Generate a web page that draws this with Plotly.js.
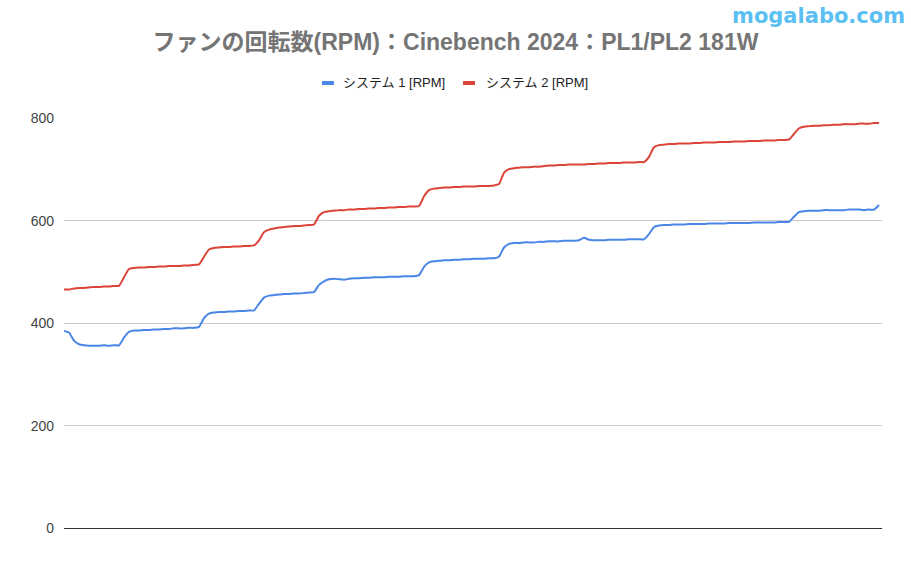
<!DOCTYPE html>
<html>
<head>
<meta charset="utf-8">
<script src="https://cdn.plot.ly/plotly-3.0.1.min.js"></script>
<style>
  html, body { margin: 0; padding: 0; background: #fff; }
  #chart { width: 911px; height: 566px; }
</style>
</head>
<body>
<div id="chart"></div>
<script>
// series labels
var seriesNames = ['システム 1 [RPM]', 'システム 2 [RPM]'];
var seriesColors = ['#4a86e8', '#db4437'];
var yTicks = [0, 200, 400, 600, 800];

// fan speed, one sample per step of the run
var sys1 = [
  385, 382, 366, 359, 357, 356, 356, 356, 357, 356, 357, 357, 372, 383, 386, 386,
  387, 387, 388, 388, 389, 389, 390, 390, 390, 391, 391, 393, 410, 419, 421, 422,
  422, 423, 423, 424, 424, 425, 425, 438, 450, 454, 455, 456, 457, 457, 458, 458,
  459, 460, 461, 475, 482, 486, 487, 486, 485, 487, 488, 488, 489, 489, 490, 490,
  490, 491, 491, 491, 492, 492, 492, 494, 510, 519, 521, 522, 523, 523, 524, 524,
  525, 525, 526, 526, 526, 527, 527, 530, 548, 555, 557, 557, 558, 558, 558, 559,
  559, 560, 560, 560, 561, 561, 561, 562, 567, 563, 562, 562, 562, 563, 563, 563,
  563, 564, 564, 564, 564, 574, 588, 591, 592, 592, 593, 593, 593, 594, 594, 594,
  594, 595, 595, 595, 595, 596, 596, 596, 596, 596, 597, 597, 597, 597, 597, 598,
  598, 598, 608, 617, 619, 620, 620, 620, 621, 621, 621, 621, 621, 622, 622, 622,
  621, 622, 622, 631
];
var sys2 = [
  466, 466, 468, 469, 469, 470, 471, 471, 472, 472, 473, 473, 490, 506, 508, 509,
  509, 510, 510, 511, 511, 512, 512, 512, 513, 513, 514, 515, 530, 544, 547, 548,
  549, 549, 550, 550, 551, 551, 552, 562, 578, 583, 585, 587, 588, 589, 590, 590,
  591, 592, 593, 610, 617, 619, 620, 621, 621, 622, 622, 623, 623, 624, 624, 625,
  625, 626, 626, 627, 627, 628, 628, 629, 648, 660, 663, 664, 665, 665, 666, 666,
  667, 667, 667, 668, 668, 668, 669, 672, 694, 701, 703, 704, 705, 705, 706, 706,
  707, 708, 708, 709, 709, 710, 710, 710, 710, 711, 711, 712, 712, 713, 713, 713,
  714, 714, 714, 715, 715, 725, 744, 748, 749, 750, 750, 751, 751, 751, 752, 752,
  753, 753, 753, 754, 754, 754, 755, 755, 755, 756, 756, 756, 757, 757, 757, 758,
  758, 759, 770, 781, 784, 785, 786, 786, 787, 787, 788, 788, 789, 789, 789, 790,
  790, 790, 791, 791
];

var idx = sys1.map(function(v, i){ return i; });

var traces = [sys1, sys2].map(function(ys, k){
  return {
    x: idx,
    y: ys,
    type: 'scatter',
    mode: 'lines',
    name: seriesNames[k],
    line: {color: seriesColors[k], width: 2, shape: 'spline', smoothing: 0.5},
    hoverinfo: 'y',
    showlegend: false
  };
});

var baseFont = '"Liberation Sans", Arial, "Noto Sans CJK JP", sans-serif';

// hand drawn legend, Google Charts style (short thick swatch)
var legendX = [[0.3154, 0.3300, 0.3386], [0.4878, 0.5024, 0.5134]];
var legendY = 1.0854;
var shapes = [], annotations = [];
legendX.forEach(function(p, k){
  shapes.push({
    type: 'line', xref: 'paper', yref: 'paper',
    x0: p[0], x1: p[1], y0: legendY, y1: legendY,
    line: {color: seriesColors[k], width: 4}
  });
  annotations.push({
    text: seriesNames[k],
    xref: 'paper', yref: 'paper',
    x: p[2], y: legendY, xanchor: 'left', yanchor: 'middle',
    showarrow: false,
    font: {family: baseFont, size: 13, color: '#222'}
  });
});

annotations.push({
  text: '<b>mogalabo.com</b>',
  xref: 'paper', yref: 'paper',
  x: 1.03, y: 1.25, xanchor: 'right', yanchor: 'middle',
  showarrow: false,
  font: {family: '"DejaVu Sans", sans-serif', size: 21, color: '#5bbff2'}
});

var layout = {
  width: 911,
  height: 566,
  paper_bgcolor: '#fff',
  plot_bgcolor: '#fff',
  font: {family: baseFont, size: 13, color: '#444'},
  title: {
    text: '<b>ファンの回転数(RPM)：Cinebench 2024：PL1/PL2 181W</b>',
    x: 0.5, xanchor: 'center',
    y: 0.926, yanchor: 'middle', yref: 'container',
    font: {family: baseFont, size: 23, color: '#757575'}
  },
  margin: {l: 64, r: 29, t: 118, b: 38},
  showlegend: false,
  xaxis: {
    range: [0, idx.length - 1 + 0.6],
    showgrid: false,
    showticklabels: false,
    zeroline: false,
    showline: false,
    ticks: ''
  },
  yaxis: {
    range: [0, 801],
    tickvals: yTicks,
    ticktext: yTicks.map(String),
    showgrid: true,
    gridcolor: '#cccccc',
    gridwidth: 1,
    zeroline: true,
    zerolinecolor: '#333333',
    zerolinewidth: 1,
    ticks: '',
    ticklabelstandoff: 9,
    tickfont: {family: baseFont, size: 14, color: '#444'}
  },
  shapes: shapes,
  annotations: annotations
};

Plotly.newPlot('chart', traces, layout, {displayModeBar: false, staticPlot: true});
</script>
</body>
</html>
